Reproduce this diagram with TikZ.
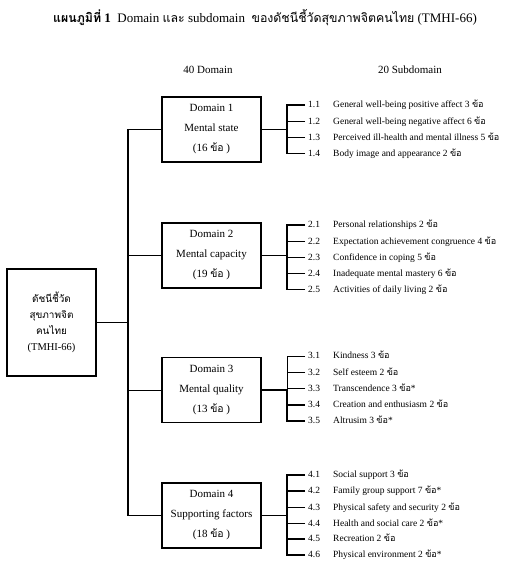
\documentclass[tikz,border=0pt]{standalone}
\usepackage{fontspec}
\setmainfont{Liberation Serif}
\newfontfamily\thaifont[Script=Thai,Scale=0.95]{Loma}
\usetikzlibrary{positioning}
\newcommand{\kho}{{\thaifont ข้อ}}
\newcommand{\subnum}[1]{\makebox[25pt][l]{#1}}
\tikzstyle{domainBox} = [shape=rectangle, draw, line width=1.5pt, align=center,
	minimum width=99pt, minimum height=65pt, inner sep=0pt,
	font=\fontsize{11}{20}\selectfont]
\tikzstyle{rootBox} = [shape=rectangle, draw, line width=1.5pt, align=center,
	minimum width=89pt, minimum height=107pt, inner sep=0pt,
	font=\fontsize{10.5}{16}\selectfont]
\tikzstyle{subItem} = [anchor=west, inner sep=0pt, inner xsep=3pt,
	text height=7pt, text depth=2pt, font=\fontsize{9.5}{11}\selectfont]
\tikzstyle{headText} = [font=\fontsize{11}{13}\selectfont]
\tikzstyle{thickLine} = [line width=1.7pt]
\tikzstyle{thinLine} = [line width=0.8pt]

\begin{document}
\begin{tikzpicture}[x=1pt, y=-1pt]
  \useasboundingbox (0,0) rectangle (530,587);

  \node (TITLE) [font=\fontsize{13}{15}\selectfont] at (265,18)
    {{\thaifont\bfseries แผนภูมิที่} \textbf{1}\enspace Domain {\thaifont และ} subdomain\enspace{\thaifont ของดัชนีชี้วัดสุขภาพจิตคนไทย} (TMHI-66)};
  \node (HDOM) [headText] at (208,70) {40 Domain};
  \node (HSUB) [headText] at (410,70) {20 Subdomain};

  \node (ROOT) [rootBox] at (51.5,322.5)
    {{\thaifont ดัชนีชี้วัด}\\{\thaifont สุขภาพจิต}\\{\thaifont คนไทย}\\(TMHI-66)};

  \node (DOM1) [domainBox] at (211.5,129.5) {Domain 1\\Mental state\\(16 \kho~)};
  \node (DOM2) [domainBox] at (211.5,255.5) {Domain 2\\Mental capacity\\(19 \kho~)};
  \node (DOM3) [domainBox] at (211.5,390) {Domain 3\\Mental quality\\(13 \kho~)};
  \node (DOM4) [domainBox] at (211.5,515.5) {Domain 4\\Supporting factors\\(18 \kho~)};

  \coordinate (TRUNK) at (128,322.5);
  \draw [thickLine] (ROOT) -- (TRUNK);
  \draw [thickLine] (DOM1.west) -| (TRUNK);
  \draw [thickLine] (DOM4.west) -| (TRUNK);
  \draw [thickLine] (DOM2.west) -- (DOM2.west -| TRUNK);
  \draw [thinLine] (DOM3.west) -- (DOM3.west -| TRUNK);

  % Domain 1
  \coordinate (BR1) at (287,129.5);
  \node (S11) [subItem] at (305,105) {\subnum{1.1}General well-being positive affect 3 \kho};
  \node (S12) [subItem] at (305,121.5) {\subnum{1.2}General well-being negative affect 6 \kho};
  \node (S13) [subItem] at (305,137.5) {\subnum{1.3}Perceived ill-health and mental illness 5 \kho};
  \node (S14) [subItem] at (305,153.5) {\subnum{1.4}Body image and appearance 2 \kho};
  \draw [thickLine] (DOM1) -- (BR1);
  \draw [thickLine] (S11.west) -| (BR1);
  \draw [thickLine] (S14.west) -| (BR1);
  \draw [thickLine] (S12.west) -- (S12.west -| BR1);
  \draw [thickLine] (S13.west) -- (S13.west -| BR1);

  % Domain 2
  \coordinate (BR2) at (287,255.5);
  \node (S21) [subItem] at (305,225) {\subnum{2.1}Personal relationships 2 \kho};
  \node (S22) [subItem] at (305,241.5) {\subnum{2.2}Expectation achievement congruence 4 \kho};
  \node (S23) [subItem] at (305,257.5) {\subnum{2.3}Confidence in coping 5 \kho};
  \node (S24) [subItem] at (305,273.5) {\subnum{2.4}Inadequate mental mastery 6 \kho};
  \node (S25) [subItem] at (305,289.5) {\subnum{2.5}Activities of daily living 2 \kho};
  \draw [thickLine] (DOM2) -- (BR2);
  \draw [thickLine] (S21.west) -| (BR2);
  \draw [thickLine] (S25.west) -| (BR2);
  \draw [thickLine] (S22.west) -- (S22.west -| BR2);
  \draw [thickLine] (S23.west) -- (S23.west -| BR2);
  \draw [thickLine] (S24.west) -- (S24.west -| BR2);

  % Domain 3
  \coordinate (BR3) at (287,390);
  \node (S31) [subItem] at (305,356) {\subnum{3.1}Kindness 3 \kho};
  \node (S32) [subItem] at (305,372.5) {\subnum{3.2}Self esteem 2 \kho};
  \node (S33) [subItem] at (305,388.5) {\subnum{3.3}Transcendence 3 \kho*};
  \node (S34) [subItem] at (305,405) {\subnum{3.4}Creation and enthusiasm 2 \kho};
  \node (S35) [subItem] at (305,421) {\subnum{3.5}Altrusim 3 \kho*};
  \draw [thickLine] (DOM3) -- (BR3);
  \draw [thinLine] (S31.west) -| (BR3);
  \draw [thickLine] (S35.west) -| (BR3);
  \draw [thickLine] (S32.west) -- (S32.west -| BR3);
  \draw [thickLine] (S33.west) -- (S33.west -| BR3);
  \draw [thickLine] (S34.west) -- (S34.west -| BR3);

  % Domain 4
  \coordinate (BR4) at (287,515.5);
  \node (S41) [subItem] at (305,475) {\subnum{4.1}Social support 3 \kho};
  \node (S42) [subItem] at (305,491) {\subnum{4.2}Family group support 7 \kho*};
  \node (S43) [subItem] at (305,507.5) {\subnum{4.3}Physical safety and security 2 \kho};
  \node (S44) [subItem] at (305,523.5) {\subnum{4.4}Health and social care 2 \kho*};
  \node (S45) [subItem] at (305,539) {\subnum{4.5}Recreation 2 \kho};
  \node (S46) [subItem] at (305,555) {\subnum{4.6}Physical environment 2 \kho*};
  \draw [thickLine] (DOM4) -- (BR4);
  \draw [thickLine] (S41.west) -| (BR4);
  \draw [thickLine] (S46.west) -| (BR4);
  \draw [thickLine] (S42.west) -- (S42.west -| BR4);
  \draw [thinLine] (S43.west) -- (S43.west -| BR4);
  \draw [thickLine] (S44.west) -- (S44.west -| BR4);
  \draw [thickLine] (S45.west) -- (S45.west -| BR4);

\end{tikzpicture}
\end{document}
